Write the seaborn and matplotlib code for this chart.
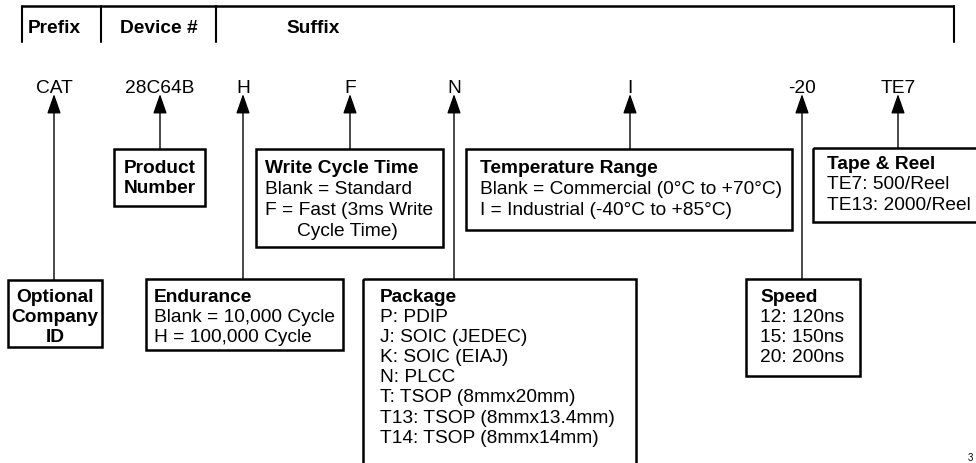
import numpy as np
import pandas as pd
import seaborn as sns
import matplotlib.pyplot as plt
from matplotlib.patches import Rectangle


#%% content of the ordering-information diagram

header_labels = ["Prefix", "Device #", "Suffix"]
codes = ["CAT", "28C64B", "H", "F", "N", "I", "-20", "TE7"]

box_titles = ["Optional", "Product", "Endurance", "Write Cycle Time",
              "Package", "Temperature Range", "Speed", "Tape & Reel"]
box_lines = [
    ["Company", "ID"],
    ["Number"],
    ["Blank = 10,000 Cycle", "H = 100,000 Cycle"],
    ["Blank = Standard", "F = Fast (3ms Write", "Cycle Time)"],
    ["P: PDIP", "J: SOIC (JEDEC)", "K: SOIC (EIAJ)", "N: PLCC",
     "T: TSOP (8mmx20mm)", "T13: TSOP (8mmx13.4mm)", "T14: TSOP (8mmx14mm)"],
    ["Blank = Commercial (0°C to +70°C)", "I = Industrial (-40°C to +85°C)"],
    ["12: 120ns", "15: 150ns", "20: 200ns"],
    ["TE7: 500/Reel", "TE13: 2000/Reel"],
]

#%% layout (pixel coordinates, y grows downward)

header_x = [28, 120, 286]
header_dividers = [22, 101, 216, 954]
code_x = [54, 160, 243, 350, 454, 630, 802, 898]

# box: left, top, right, bottom, text x, first baseline, line step, centered
box_geom = [
    (8, 281, 102, 348, 55, 302, 20, True),
    (114, 150, 205, 207, 160, 173, 20, True),
    (146, 280, 343, 351, 154, 302, 20, False),
    (256, 150, 443, 248, 265, 173, 21, False),
    (363, 280, 636, 480, 380, 302, 20.1, False),
    (466, 150, 792, 231, 480, 173, 21, False),
    (746, 280, 860, 377, 760, 302, 20, False),
    (813, 149, 995, 223, 827, 169, 20.5, False),
]
# extra indent for the wrapped "Cycle Time)" line
indent = {(3, 3): 32}


def draw_diagram():
    sns.set_theme(style="white")
    plt.rcParams["font.family"] = ["Liberation Sans", "DejaVu Sans"]
    plt.rcParams["text.color"] = "black"

    fig = plt.figure(figsize=(9.76, 4.64), dpi=100)
    ax = fig.add_axes([0, 0, 1, 1])
    ax.set_xlim(0, 976)
    ax.set_ylim(464, 0)
    ax.axis("off")

    fs = 13.8

    # header bar
    ax.plot([header_dividers[0], header_dividers[-1]], [7, 7], color="black", lw=1.8,
            solid_capstyle="butt")
    for x in header_dividers:
        ax.plot([x, x], [7, 43], color="black", lw=1.5)
    for x, label in zip(header_x, header_labels):
        ax.text(x, 33, label, fontsize=fs, fontweight="bold", va="baseline", ha="left")

    # codes, arrows and description boxes
    for i, (code, x) in enumerate(zip(codes, code_x)):
        ax.text(x, 93, code, fontsize=fs, ha="center", va="baseline")
        left, top, right, bottom, tx, base, step, centered = box_geom[i]
        ax.annotate("", xy=(x, 95), xytext=(x, top),
                    arrowprops=dict(arrowstyle="-|>,head_length=1.2,head_width=0.42",
                                    mutation_scale=10, lw=1.0, color="black",
                                    shrinkA=0, shrinkB=0))
        ax.add_patch(Rectangle((left, top), right - left, bottom - top,
                               fill=False, edgecolor="black", lw=1.8))
        rows = [box_titles[i]] + box_lines[i]
        for j, row in enumerate(rows):
            weight = "bold" if (j == 0 or i in (0, 1)) else "normal"
            ha = "center" if centered else "left"
            ax.text(tx + indent.get((i, j), 0), base + j * step, row, fontsize=fs,
                    fontweight=weight, ha=ha, va="baseline")

    # page number at the lower right corner
    ax.text(968, 461, "3", fontsize=7, ha="left", va="baseline")

    fig.savefig("out.png", dpi=100)


if __name__ == "__main__":
    draw_diagram()
